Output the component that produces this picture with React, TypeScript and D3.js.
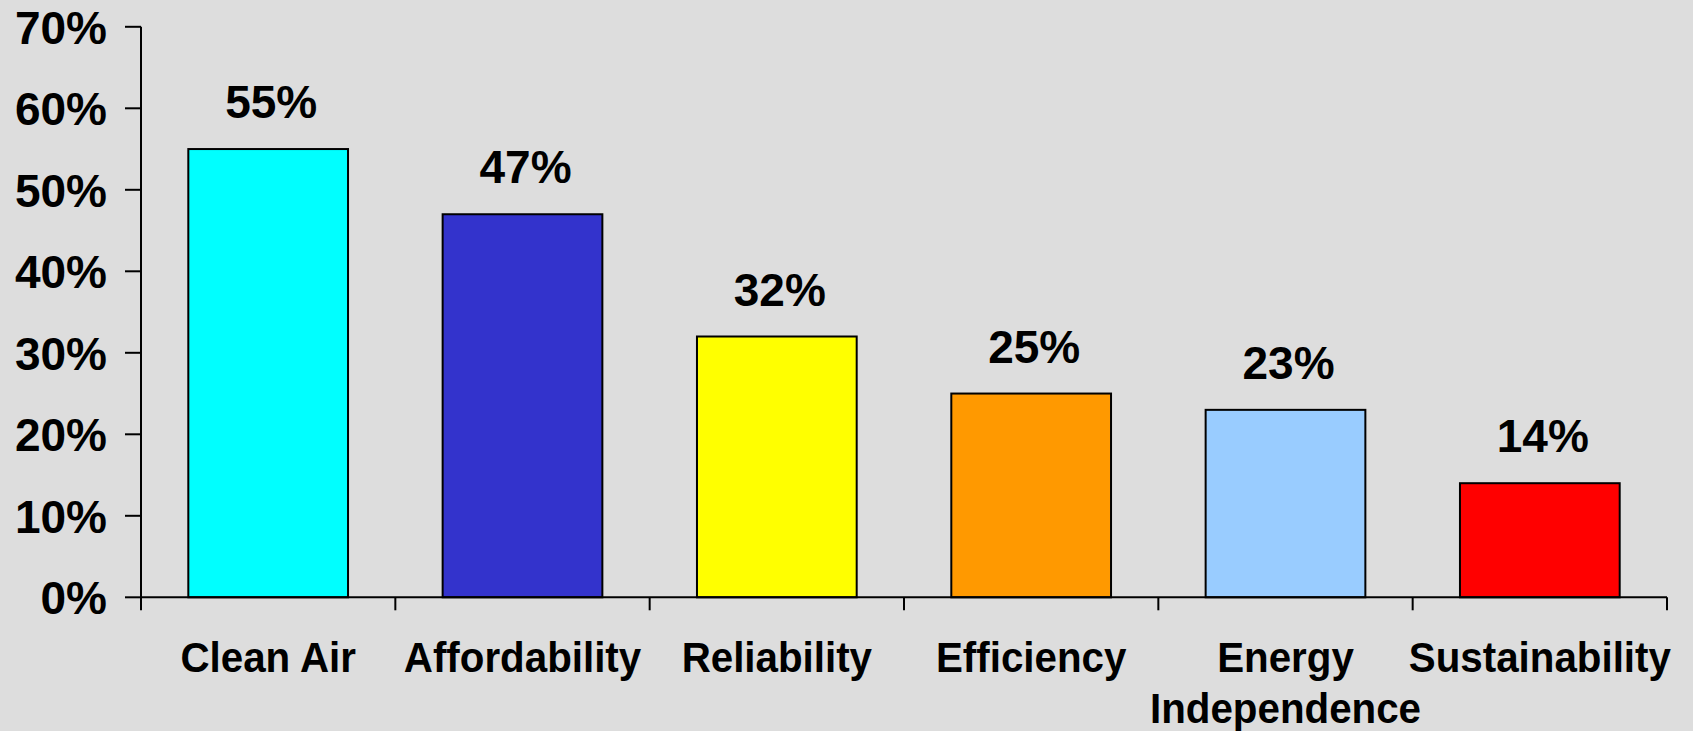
import React from "react";
import * as d3 from "d3";

const categories = ["Clean Air", "Affordability", "Reliability", "Efficiency", "Energy\nIndependence", "Sustainability"];
const values = [55, 47, 32, 25, 23, 14];
const colors = ["#00FFFF", "#3333CC", "#FFFF00", "#FF9900", "#99CCFF", "#FF0000"];
const yTicks = [0, 10, 20, 30, 40, 50, 60, 70];

const W = 1693;
const H = 731;
const FONT = "'Liberation Sans', Arial, Helvetica, sans-serif";

export default function App() {
  const x = d3.scaleBand<string>().domain(categories).range([141, 1667]).paddingInner(0.372).paddingOuter(0.186);
  const step = x.step();
  const y = d3.scaleLinear().domain([0, 70]).range([597.3, 26.8]);
  const y0 = y(0);

  const boundaries = [x(categories[0])! - step * 0.186, ...categories.map((c) => x(c)! + x.bandwidth() + step * 0.186)];

  return (
    <svg width={W} height={H} style={{ position: "absolute", left: 0, top: 0, background: "#DDDDDD" }}>
      <rect x={0} y={0} width={W} height={H} fill="#DDDDDD" />
      {categories.map((c, i) => (
        <rect
          key={c}
          x={x(c)}
          y={y(values[i])}
          width={x.bandwidth()}
          height={y0 - y(values[i])}
          fill={colors[i]}
          stroke="#000"
          strokeWidth={2}
        />
      ))}
      {categories.map((c, i) => (
        <text
          key={"v" + c}
          x={x(c)! + x.bandwidth() / 2 + 3}
          y={y(values[i]) - 31}
          textAnchor="middle"
          fontFamily={FONT}
          fontWeight="bold"
          fontSize={46}
          fill="#000"
        >
          {values[i]}%
        </text>
      ))}
      <line x1={141} x2={141} y1={y(70)} y2={y0} stroke="#000" strokeWidth={2} />
      {yTicks.map((t) => (
        <g key={"yt" + t}>
          <line x1={125} x2={141} y1={y(t)} y2={y(t)} stroke="#000" strokeWidth={2} />
          <text
            x={107}
            y={y(t) + 17}
            textAnchor="end"
            fontFamily={FONT}
            fontWeight="bold"
            fontSize={46}
            fill="#000"
          >
            {t}%
          </text>
        </g>
      ))}
      <line x1={141} x2={boundaries[boundaries.length - 1]} y1={y0} y2={y0} stroke="#000" strokeWidth={2} />
      {boundaries.map((b, i) => (
        <line key={"xt" + i} x1={b} x2={b} y1={y0} y2={y0 + 13} stroke="#000" strokeWidth={2} />
      ))}
      {categories.map((c) => {
        const lines = c.split("\n");
        const cx = x(c)! + x.bandwidth() / 2;
        return (
          <text
            key={"c" + c}
            transform={`translate(${cx},672) scale(0.96,1)`}
            textAnchor="middle"
            fontFamily={FONT}
            fontWeight="bold"
            fontSize={42}
            fill="#000"
          >
            {lines.map((l, j) => (
              <tspan key={j} x={0} dy={j === 0 ? 0 : 51}>
                {l}
              </tspan>
            ))}
          </text>
        );
      })}
    </svg>
  );
}
